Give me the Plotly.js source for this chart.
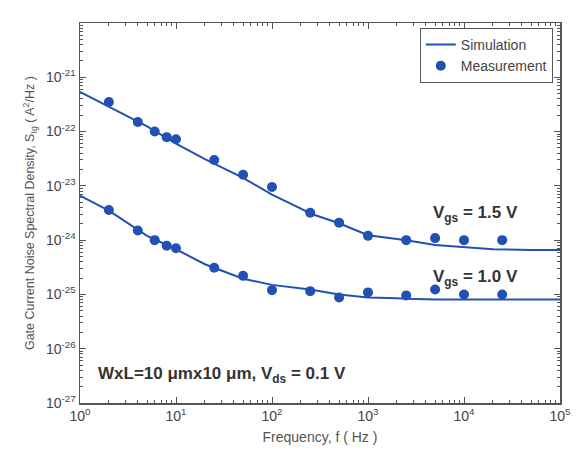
<!DOCTYPE html>
<html>
<head>
<meta charset="utf-8">
<script src="https://cdn.plot.ly/plotly-3.0.1.min.js"></script>
<style>html,body{margin:0;padding:0;background:#fff;}#chart{width:580px;height:458px;}</style>
</head>
<body>
<div id="chart"></div>
<script>
// Measurement frequencies (Hz)
const measFreq = [2, 4, 6, 8, 10, 25, 50, 100, 250, 500, 1000, 2500, 5000, 10000, 25000];
// Measured S_Ig (A^2/Hz)
const measVgs15 = [3.5e-22, 1.5e-22, 1.0e-22, 7.9e-23, 7.2e-23, 3.0e-23, 1.6e-23, 9.5e-24, 3.2e-24, 2.1e-24, 1.2e-24, 1.0e-24, 1.09e-24, 1.0e-24, 1.0e-24];
const measVgs10 = [3.6e-24, 1.5e-24, 1.0e-24, 7.9e-25, 7.1e-25, 3.1e-25, 2.2e-25, 1.2e-25, 1.15e-25, 8.8e-26, 1.09e-25, 9.6e-26, 1.23e-25, 1.0e-25, 1.0e-25];
// Simulation curves
const simFreq = [1, 2, 5, 10, 20, 50, 100, 200, 250, 500, 1000, 2000, 2500, 5000, 10000, 20000, 50000, 100000];
const simVgs15 = [5.4e-22, 2.9e-22, 1.25e-22, 6.0e-23, 3.1e-23, 1.4e-23, 6.9e-24, 3.8e-24, 3.1e-24, 2.05e-24, 1.23e-24, 1.05e-24, 1.0e-24, 8.1e-25, 7.4e-25, 6.8e-25, 6.6e-25, 6.6e-25];
const simVgs10 = [6.6e-24, 3.5e-24, 1.2e-24, 6.8e-25, 3.6e-25, 1.95e-25, 1.5e-25, 1.29e-25, 1.23e-25, 1.0e-25, 8.8e-26, 8.5e-26, 8.3e-26, 8.1e-26, 8.1e-26, 8.1e-26, 8.1e-26, 8.1e-26];
const seriesNames = ['Simulation', 'Measurement'];
// Tick labels
const xTickExp = [0, 1, 2, 3, 4, 5];
const yTickExp = [-27, -26, -25, -24, -23, -22, -21];

const blue = '#2350b4';
const font = 'Liberation Sans, Arial, sans-serif';
const axisGray = '#555';

function minorTicks(lo, hi) {
  const v = [];
  for (let e = lo; e < hi; e++) for (let m = 2; m <= 9; m++) v.push(m * Math.pow(10, e));
  return v;
}

const traces = [
  {x: simFreq, y: simVgs15, mode: 'lines', name: seriesNames[0], line: {color: blue, width: 2}, showlegend: true, legendgroup: 's'},
  {x: measFreq, y: measVgs15, mode: 'markers', name: seriesNames[1], marker: {color: blue, size: 10}, showlegend: true, legendgroup: 'm'},
  {x: simFreq, y: simVgs10, mode: 'lines', name: seriesNames[0], line: {color: blue, width: 2}, showlegend: false, legendgroup: 's'},
  {x: measFreq, y: measVgs10, mode: 'markers', name: seriesNames[1], marker: {color: blue, size: 10}, showlegend: false, legendgroup: 'm'},
  {x: [], y: [], xaxis: 'x2', yaxis: 'y2', mode: 'markers', showlegend: false, hoverinfo: 'skip'}
];

const axisCommon = {
  type: 'log', showgrid: false, zeroline: false,
  showline: true, linecolor: axisGray, linewidth: 1.5, mirror: 'allticks',
  ticks: 'inside', ticklen: 6, tickcolor: axisGray, tickwidth: 1,
  tickfont: {family: font, size: 14, color: '#444'}
};
const minorCommon = {
  type: 'log', showgrid: false, zeroline: false, showline: false, mirror: 'allticks',
  ticks: 'inside', ticklen: 3, tickcolor: axisGray, tickwidth: 1, showticklabels: false
};

const layout = {
  width: 580, height: 458,
  margin: {l: 80, r: 20, t: 23, b: 55},
  paper_bgcolor: '#fff', plot_bgcolor: '#fff',
  font: {family: font, color: '#444'},
  xaxis: Object.assign({}, axisCommon, {range: [0, 5],
    tickvals: xTickExp.map(e => Math.pow(10, e)),
    ticktext: xTickExp.map(e => '10<sup>' + e + '</sup>'),
    title: {text: 'Frequency, f ( Hz )', font: {family: font, size: 14, color: '#555'}, standoff: 9}}),
  yaxis: Object.assign({}, axisCommon, {range: [-27, -20],
    tickvals: yTickExp.map(e => Math.pow(10, e)),
    ticktext: yTickExp.map(e => '10<sup>' + e + '</sup>')}),
  xaxis2: Object.assign({}, minorCommon, {range: [0, 5], overlaying: 'x', anchor: 'y2', tickvals: minorTicks(0, 5)}),
  yaxis2: Object.assign({}, minorCommon, {range: [-27, -20], overlaying: 'y', anchor: 'x2', tickvals: minorTicks(-27, -20)}),
  showlegend: true,
  legend: {x: 0.985, y: 0.987, xanchor: 'right', yanchor: 'top', bordercolor: axisGray, borderwidth: 1,
    bgcolor: '#fff', font: {family: font, size: 14, color: '#444'}, tracegroupgap: 0},
  annotations: [
    {x: -0.104, y: 0.5, xref: 'paper', yref: 'paper', textangle: -90,
     text: 'Gate Current Noise Spectral Density, S<sub>Ig</sub> ( A<sup>2</sup>/Hz )', showarrow: false,
     xanchor: 'center', yanchor: 'middle', font: {family: font, size: 12.5, color: '#555'}},
    {x: 3.66, y: -23.52, xref: 'x', yref: 'y', text: '<b>V<sub>gs</sub> = 1.5 V</b>', showarrow: false,
     xanchor: 'left', yanchor: 'middle', font: {family: font, size: 17, color: '#333'}},
    {x: 3.66, y: -24.70, xref: 'x', yref: 'y', text: '<b>V<sub>gs</sub> = 1.0 V</b>', showarrow: false,
     xanchor: 'left', yanchor: 'middle', font: {family: font, size: 17, color: '#333'}},
    {x: 0.165, y: -26.48, xref: 'x', yref: 'y', text: '<b>WxL=10 μmx10 μm, V<sub>ds</sub> = 0.1 V</b>', showarrow: false,
     xanchor: 'left', yanchor: 'middle', font: {family: font, size: 17, color: '#333'}}
  ]
};

Plotly.newPlot('chart', traces, layout, {displayModeBar: false, staticPlot: true});
</script>
</body>
</html>
